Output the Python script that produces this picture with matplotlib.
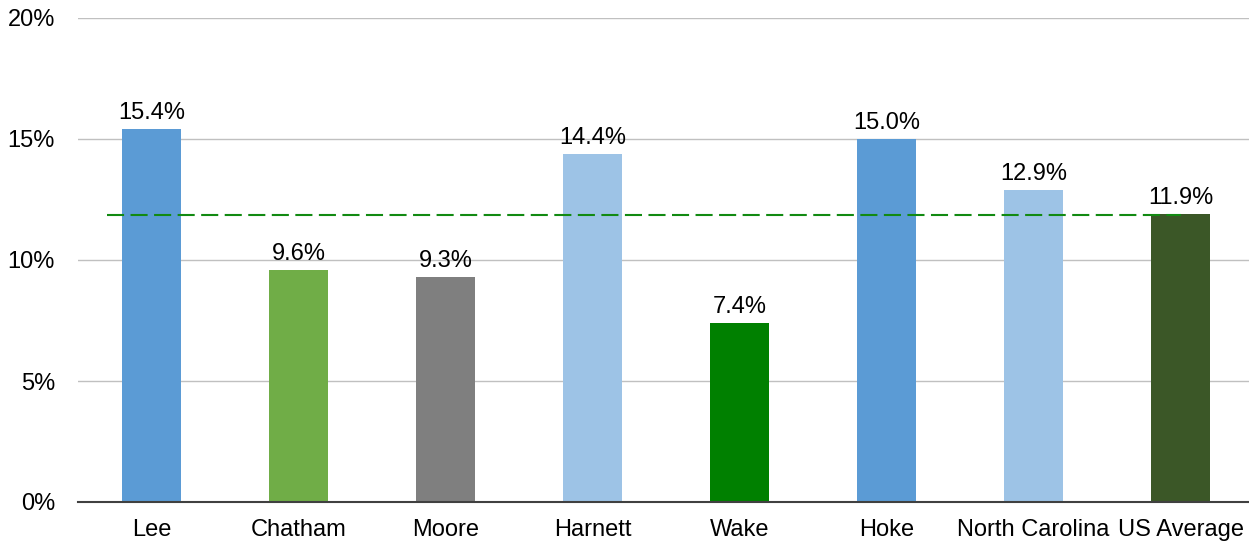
import matplotlib
matplotlib.use("Agg")
import matplotlib.pyplot as plt

categories = ["Lee", "Chatham", "Moore", "Harnett", "Wake", "Hoke", "North Carolina", "US Average"]
values = [15.4, 9.6, 9.3, 14.4, 7.4, 15.0, 12.9, 11.9]
colors = ["#5B9BD5", "#70AD47", "#7F7F7F", "#9DC3E6", "#008000", "#5B9BD5", "#9DC3E6", "#3B5727"]
us_average_line = 11.85
yticks = [0, 5, 10, 15, 20]
ytick_labels = ["0%", "5%", "10%", "15%", "20%"]

plt.rcParams['font.family'] = ['Liberation Sans', 'DejaVu Sans']

fig = plt.figure(figsize=(12.49, 5.46), dpi=100)
ax = fig.add_axes([78/1249, 44/546, 1176/1249, 484/546])

x = list(range(len(categories)))
ax.bar(x, values, width=0.4, color=colors, zorder=2)
for xi, v in zip(x, values):
    ax.text(xi, v + 0.2, f"{v:.1f}%", ha="center", va="bottom", fontsize=17, color="#000000", zorder=4)

ax.hlines(us_average_line, -0.3, 7, colors="#128A12", linestyles=(0, (8.2, 3.1)), linewidth=1.5, zorder=3)

ax.set_xlim(-0.5, 7.5)
ax.set_ylim(0, 20)
ax.set_yticks(yticks)
ax.set_yticklabels(ytick_labels, fontsize=17)
ax.set_xticks(x)
ax.set_xticklabels(categories, fontsize=17)
ax.tick_params(axis="both", length=0)
ax.tick_params(axis="y", pad=16.5)
ax.tick_params(axis="x", pad=12)
ax.yaxis.grid(True, color="#C0C0C0", linewidth=1.0, zorder=0)
ax.set_axisbelow(True)
for s in ["top", "right", "left"]:
    ax.spines[s].set_visible(False)
ax.spines["bottom"].set_color("#404040")
ax.spines["bottom"].set_linewidth(1.5)
ax.spines["bottom"].set_zorder(5)

fig.savefig("out.png", dpi=100)
